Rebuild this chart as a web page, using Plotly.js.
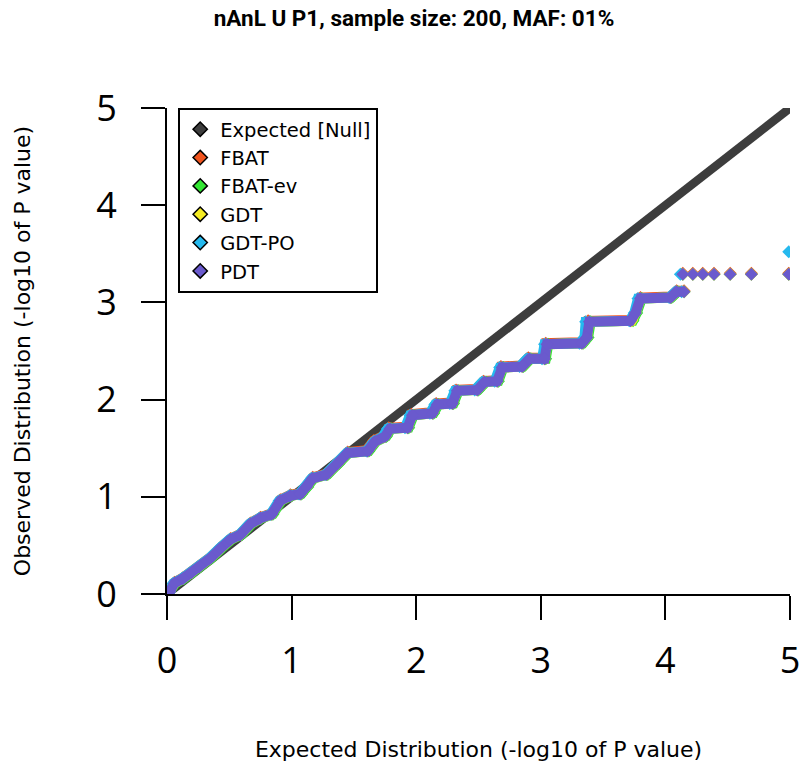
<!DOCTYPE html>
<html>
<head>
<meta charset="utf-8">
<script src="https://cdn.plot.ly/plotly-3.0.1.min.js"></script>
<style>
  html, body { margin: 0; padding: 0; background: #fff; }
  #graph { width: 800px; height: 776px; }
</style>
</head>
<body>
<div id="graph"></div>
<script>
// expected (null) diagonal
const nullX = [0, 5];
const nullY = [0, 5];

// PDT (dense part, then the sparse tail)
const pdtX = [0.02, 0.06, 0.13, 0.20, 0.26, 0.35, 0.43, 0.51, 0.59, 0.67, 0.75, 0.84, 0.91, 0.99, 1.07, 1.12, 1.17, 1.28, 1.37, 1.45,
  1.61, 1.67, 1.75, 1.79, 1.93, 1.97, 2.13, 2.17, 2.29, 2.33, 2.49, 2.55, 2.65, 2.69, 2.85, 2.91, 3.03, 3.05, 3.33, 3.37,
  3.39, 3.72, 3.76, 3.80, 4.04, 4.09, 4.15];
const pdtY = [0.02, 0.11, 0.16, 0.22, 0.28, 0.37, 0.47, 0.56, 0.61, 0.72, 0.78, 0.82, 0.96, 1.01, 1.03, 1.10, 1.19, 1.23, 1.34, 1.45,
  1.47, 1.57, 1.62, 1.70, 1.71, 1.84, 1.86, 1.95, 1.96, 2.09, 2.10, 2.18, 2.19, 2.33, 2.34, 2.42, 2.42, 2.57, 2.58, 2.64,
  2.80, 2.81, 2.89, 3.04, 3.05, 3.11, 3.11];
const pdtTailX = [4.14, 4.22, 4.30, 4.39, 4.52, 4.69, 4.99];
const pdtTailY = [3.29, 3.29, 3.29, 3.29, 3.29, 3.29, 3.29];

// FBAT (mostly hidden, peeks out just above the PDT band)
const fbatX = [0.02, 0.06, 0.13, 0.20, 0.26, 0.35, 0.43, 0.51, 0.59, 0.67, 0.75, 0.84, 0.91, 0.99, 1.07, 1.12, 1.17, 1.28, 1.37, 1.45,
  1.60, 1.66, 1.74, 1.78, 1.92, 1.96, 2.12, 2.16, 2.28, 2.32, 2.48, 2.54, 2.64, 2.68, 2.84, 2.90, 3.02, 3.04, 3.32, 3.36,
  3.38, 3.72, 3.76, 3.80, 4.04, 4.09, 4.15];
const fbatY = [0.03, 0.12, 0.17, 0.23, 0.29, 0.38, 0.48, 0.57, 0.62, 0.73, 0.79, 0.83, 0.97, 1.02, 1.04, 1.11, 1.20, 1.24, 1.35, 1.46,
  1.48, 1.58, 1.63, 1.71, 1.72, 1.85, 1.87, 1.96, 1.97, 2.10, 2.11, 2.19, 2.20, 2.34, 2.35, 2.43, 2.43, 2.58, 2.59, 2.65,
  2.81, 2.82, 2.90, 3.05, 3.06, 3.12, 3.12];
const fbatTailX = [4.14, 4.22, 4.30, 4.39, 4.52, 4.69, 4.99];
const fbatTailY = [3.30, 3.30, 3.30, 3.30, 3.30, 3.30, 3.30];

// FBAT-ev (shows at the right ends of a few runs)
const fbatEvX = [0.02, 0.07, 0.14, 0.21, 0.27, 0.36, 0.44, 0.52, 0.60, 0.68, 0.76, 0.85, 0.92, 1.00, 1.08, 1.13, 1.18, 1.29, 1.38, 1.46,
  1.62, 1.68, 1.76, 1.80, 1.94, 1.98, 2.14, 2.18, 2.30, 2.34, 2.50, 2.56, 2.66, 2.70, 2.86, 2.92, 3.04, 3.06, 3.34, 3.38,
  3.40, 3.74, 3.77, 3.81, 4.05, 4.10, 4.15];
const fbatEvY = [0.02, 0.11, 0.16, 0.22, 0.28, 0.37, 0.47, 0.56, 0.61, 0.72, 0.78, 0.82, 0.96, 1.01, 1.03, 1.10, 1.19, 1.23, 1.34, 1.45,
  1.47, 1.57, 1.62, 1.70, 1.71, 1.84, 1.86, 1.95, 1.96, 2.09, 2.10, 2.18, 2.19, 2.33, 2.34, 2.42, 2.42, 2.57, 2.58, 2.64,
  2.80, 2.81, 2.89, 3.04, 3.05, 3.11, 3.11];
const fbatEvTailX = [4.14, 4.22, 4.30, 4.39, 4.52, 4.69, 4.99];
const fbatEvTailY = [3.29, 3.29, 3.29, 3.29, 3.29, 3.29, 3.29];

// GDT
const gdtX = [0.02, 0.06, 0.13, 0.20, 0.26, 0.35, 0.43, 0.51, 0.59, 0.67, 0.75, 0.84, 0.91, 0.99, 1.07, 1.12, 1.17, 1.28, 1.37, 1.45,
  1.61, 1.67, 1.75, 1.79, 1.93, 1.97, 2.13, 2.17, 2.29, 2.33, 2.49, 2.55, 2.65, 2.69, 2.85, 2.91, 3.03, 3.05, 3.33, 3.37,
  3.39, 3.73, 3.76, 3.80, 4.04, 4.09, 4.15];
const gdtY = [0.02, 0.11, 0.16, 0.22, 0.28, 0.37, 0.47, 0.56, 0.61, 0.72, 0.78, 0.82, 0.96, 1.01, 1.03, 1.10, 1.19, 1.23, 1.34, 1.45,
  1.47, 1.57, 1.62, 1.70, 1.71, 1.84, 1.86, 1.95, 1.96, 2.09, 2.10, 2.18, 2.19, 2.33, 2.34, 2.42, 2.42, 2.57, 2.58, 2.64,
  2.80, 2.81, 2.89, 3.04, 3.05, 3.11, 3.11];
const gdtTailX = [4.14, 4.22, 4.30, 4.39, 4.52, 4.69, 4.99];
const gdtTailY = [3.29, 3.29, 3.29, 3.29, 3.29, 3.29, 3.29];

// GDT-PO (runs start a touch earlier, top point sits higher)
const gdtPoX = [0.02, 0.05, 0.12, 0.19, 0.25, 0.34, 0.42, 0.50, 0.58, 0.66, 0.74, 0.83, 0.90, 0.98, 1.06, 1.11, 1.16, 1.27, 1.36, 1.44,
  1.60, 1.66, 1.73, 1.77, 1.91, 1.95, 2.11, 2.15, 2.27, 2.31, 2.47, 2.53, 2.63, 2.67, 2.83, 2.89, 3.01, 3.03, 3.31, 3.35,
  3.36, 3.71, 3.75, 3.78, 4.03, 4.08, 4.13];
const gdtPoY = [0.02, 0.11, 0.16, 0.22, 0.28, 0.37, 0.47, 0.56, 0.61, 0.72, 0.78, 0.82, 0.96, 1.01, 1.03, 1.10, 1.19, 1.23, 1.34, 1.45,
  1.47, 1.57, 1.62, 1.70, 1.71, 1.84, 1.86, 1.95, 1.96, 2.09, 2.10, 2.18, 2.19, 2.33, 2.34, 2.42, 2.42, 2.57, 2.58, 2.64,
  2.80, 2.81, 2.89, 3.04, 3.05, 3.11, 3.11];
const gdtPoTailX = [4.12, 4.99];
const gdtPoTailY = [3.29, 3.52];

const names = ["Expected [Null]", "FBAT", "FBAT-ev", "GDT", "GDT-PO", "PDT"];
const colors = ["#3d3d3d", "#f0541e", "#33e633", "#f5ec23", "#25b9ee", "#6a5acd"];

const series = [
  [fbatX, fbatY, fbatTailX, fbatTailY],
  [fbatEvX, fbatEvY, fbatEvTailX, fbatEvTailY],
  [gdtX, gdtY, gdtTailX, gdtTailY],
  [gdtPoX, gdtPoY, gdtPoTailX, gdtPoTailY],
  [pdtX, pdtY, pdtTailX, pdtTailY]
];

const traces = [{
  x: nullX, y: nullY, mode: 'lines', type: 'scatter',
  line: {color: colors[0], width: 8.5}, showlegend: false, hoverinfo: 'skip'
}];

series.forEach((s, i) => {
  const c = colors[i + 1];
  traces.push({
    x: s[0], y: s[1], mode: 'lines+markers', type: 'scatter',
    line: {color: c, width: 10},
    marker: {symbol: 'diamond', size: 10, color: c},
    showlegend: false, hoverinfo: 'skip'
  });
  traces.push({
    x: s[2], y: s[3], mode: 'markers', type: 'scatter',
    marker: {symbol: 'diamond', size: 10, color: c},
    showlegend: false, hoverinfo: 'skip'
  });
});

// legend-only entries (diamonds with a black rim)
names.forEach((n, i) => {
  traces.push({
    x: [null], y: [null], mode: 'markers', type: 'scatter', name: n,
    marker: {symbol: 'diamond', size: 11, color: colors[i], line: {color: '#000', width: 1.5}}
  });
});

const tickFont = {family: 'Open Sans', size: 36, color: '#000'};
const titleFont = {family: 'DejaVu Sans', size: 22, color: '#000'};

const layout = {
  width: 800,
  height: 776,
  margin: {l: 167, r: 10, t: 108, b: 182},
  paper_bgcolor: '#fff',
  plot_bgcolor: '#fff',
  font: {family: 'DejaVu Sans', color: '#000'},
  title: {
    text: '<b>nAnL U P1, sample size: 200, MAF: 01%</b>',
    font: {family: 'Roboto', size: 22.5, color: '#000'},
    xref: 'container', x: 0.5175, xanchor: 'center',
    yref: 'container', y: 0.977, yanchor: 'middle'
  },
  xaxis: {
    range: [0, 5],
    tickvals: [0, 1, 2, 3, 4, 5],
    ticks: 'outside', ticklen: 24, tickwidth: 2, tickcolor: '#000',
    showline: true, linecolor: '#000', linewidth: 2,
    showgrid: false, zeroline: false,
    tickfont: tickFont,
    ticklabelstandoff: 10,
    ticklabeloverflow: 'allow',
    title: {text: 'Expected Distribution (-log10 of P value)', font: titleFont, standoff: 58}
  },
  yaxis: {
    range: [0, 5],
    tickvals: [0, 1, 2, 3, 4, 5],
    ticks: 'outside', ticklen: 24, tickwidth: 2, tickcolor: '#000',
    showline: true, linecolor: '#000', linewidth: 2,
    showgrid: false, zeroline: false,
    tickfont: tickFont,
    ticklabelstandoff: 17,
    ticklabeloverflow: 'allow',
    title: {text: 'Observed Distribution (-log10 of P value)', font: titleFont, standoff: 60}
  },
  showlegend: true,
  legend: {
    x: 0.018, y: 1, xanchor: 'left', yanchor: 'top',
    bgcolor: '#fff', bordercolor: '#000', borderwidth: 2,
    font: {family: 'DejaVu Sans', size: 19.5, color: '#000'}
  }
};

Plotly.newPlot('graph', traces, layout, {displayModeBar: false});
</script>
</body>
</html>
